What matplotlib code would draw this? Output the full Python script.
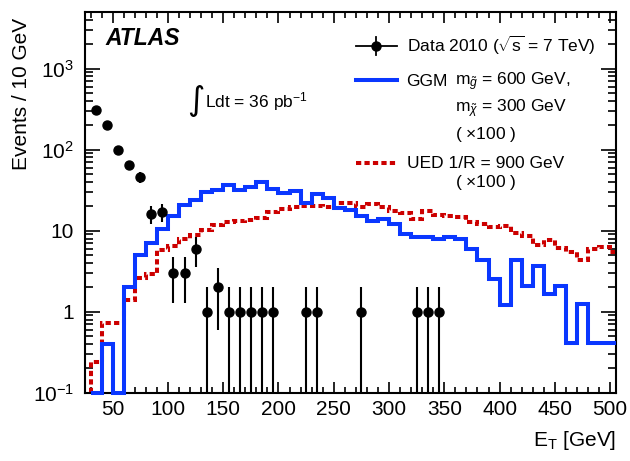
import numpy as np
import matplotlib
matplotlib.use('Agg')
import matplotlib.pyplot as plt
from matplotlib.lines import Line2D
from matplotlib.patches import Rectangle
from matplotlib.ticker import FixedLocator, MultipleLocator, LogLocator, NullFormatter

plt.rcParams['font.family'] = ['Liberation Sans', 'DejaVu Sans']
plt.rcParams['mathtext.fontset'] = 'custom'
plt.rcParams['mathtext.rm'] = 'Liberation Sans'
plt.rcParams['mathtext.it'] = 'Liberation Sans:italic'
plt.rcParams['mathtext.bf'] = 'Liberation Sans:bold'

# data 2010, events per 10 GeV (bin centres)
data_et = [35, 45, 55, 65, 75, 85, 95, 105, 115, 125, 135, 145, 155, 165, 175,
           185, 195, 225, 235, 275, 325, 335, 345]
data_n = [310, 200, 100, 65, 46, 16, 17, 3, 3, 6, 1, 2, 1, 1, 1,
          1, 1, 1, 1, 1, 1, 1, 1]

# signal histograms (x100), 10 GeV bins from 30 GeV
bin_edges = np.arange(30, 520, 10)
ggm = [0, 0.4, 0, 2.0, 5.0, 7.0, 10.5, 15, 21, 24,
       30, 32, 37, 32, 35, 40, 33, 29, 31, 22,
       28, 25, 19, 18, 15, 13, 14, 12, 9.0, 8.4,
       8.3, 7.9, 8.3, 7.9, 5.9, 4.3, 2.5, 1.2, 4.3, 2.1,
       3.7, 1.65, 2.1, 0.41, 1.24, 0.41, 0.41, 0.41]
ued = [0.24, 0.72, 0.72, 1.4, 2.6, 2.9, 5.8, 6.4, 7.8, 8.8,
       10.2, 11.8, 12.7, 13.3, 13.6, 14.2, 17.2, 18.4, 19.5, 20.2,
       20.2, 19.5, 21.8, 21.8, 19.5, 21.5, 19.8, 17.7, 16.4, 13.8,
       17.7, 15.6, 15.2, 14.6, 12.9, 12.0, 11.0, 11.4, 9.4, 8.6,
       6.65, 7.7, 6.05, 5.5, 4.4, 5.9, 6.2, 5.5]

ymin, ymax = 0.1, 5000

fig = plt.figure(figsize=(6.3, 4.61), dpi=100)
ax = fig.add_axes([85/630, 1-392.7/461, 530.7/630, 380.7/461])
ax.set_yscale('log')
ax.set_xlim(25, 505)
ax.set_ylim(ymin, ymax)

# clip a bit below the frame so lines lying on the bottom show fully
clip = Rectangle((0, -0.02), 1, 1.04, transform=ax.transAxes)

blue = '#0a37ff'
red = '#cc0000'
s1 = ax.stairs(np.clip(ggm, ymin, None), bin_edges, baseline=ymin,
               color=blue, lw=2.9, zorder=3)
s1.set_clip_path(clip)
s2 = ax.stairs(np.clip(ued, ymin, None), bin_edges, baseline=ymin,
               color=red, lw=2.9, linestyle=(0, (1.3, 0.8)), zorder=2)
s2.set_clip_path(clip)

n = np.array(data_n, dtype=float)
err = np.sqrt(n)
lo = n - np.maximum(n - err, 1e-3)
ax.errorbar(data_et, n, yerr=[lo, err], fmt='o', color='black', ms=6.5,
            elinewidth=1.5, capsize=0, zorder=4)

# axes styling
ax.xaxis.set_major_locator(MultipleLocator(50))
ax.xaxis.set_minor_locator(MultipleLocator(10))
ax.set_xticks(np.arange(50, 501, 50))
ax.yaxis.set_major_locator(FixedLocator([0.1, 1, 10, 100, 1000]))
ax.yaxis.set_minor_locator(LogLocator(base=10, subs=np.arange(2, 10)))
ax.yaxis.set_minor_formatter(NullFormatter())
ax.set_yticklabels(['$10^{-1}$', '1', '10', '$10^{2}$', '$10^{3}$'])
ax.tick_params(which='both', direction='in', top=True, right=True, width=1.2)
ax.tick_params(axis='x', which='major', length=8, labelsize=15, pad=5)
ax.tick_params(axis='x', which='minor', length=4)
ax.tick_params(axis='y', which='major', length=11, labelsize=15, pad=8)
ax.tick_params(axis='y', which='minor', length=5.5)
for sp in ax.spines.values():
    sp.set_linewidth(1.5)

fig.text(616/630, 1-440/461, r'E$_{\mathrm{T}}$ [GeV]', fontsize=15,
         ha='right', va='center')
fig.text(22/630, 1-18/461, 'Events / 10 GeV', fontsize=15, rotation=90,
         ha='center', va='top')

ax.text(0.0377, 0.930, 'ATLAS', transform=ax.transAxes, fontsize=16.5,
        fontweight='bold', fontstyle='italic', va='center', ha='left')
# luminosity label with a tall integral sign
ax.text(0.192, 0.768, '\u222b', transform=ax.transAxes, fontsize=24,
        family='DejaVu Sans', va='center', ha='left')
ax.text(0.226, 0.766, r'Ldt = 36 pb$^{-1}$', transform=ax.transAxes,
        fontsize=12.5, va='center', ha='left')

# legend
tr = ax.transAxes
lx0, lx1, tx, tx2 = 0.5107, 0.5877, 0.606, 0.697
fs = 12.5
ax.add_line(Line2D([lx0, lx1], [0.911, 0.911], color='black', lw=1.3, transform=tr))
ax.add_line(Line2D([0.549, 0.549], [0.888, 0.934], color='black', lw=1.3, transform=tr))
ax.add_line(Line2D([0.549], [0.911], marker='o', ms=6.5, color='black', transform=tr))
ax.text(tx, 0.911, r'Data 2010 ($\sqrt{\mathrm{s}}$ = 7 TeV)', transform=tr,
        fontsize=fs, va='center')
ax.add_line(Line2D([lx0, lx1], [0.821, 0.821], color=blue, lw=2.9, transform=tr))
ax.text(tx, 0.818, 'GGM', transform=tr, fontsize=fs, va='center')
ax.text(tx2, 0.818, r'm$_{\tilde{g}}$ = 600 GeV,', transform=tr, fontsize=fs, va='center')
ax.text(tx2, 0.745, r'm$_{\tilde{\chi}}$ = 300 GeV', transform=tr, fontsize=fs, va='center')
ax.text(tx2, 0.677, r'( $\times$100 )', transform=tr, fontsize=fs, va='center')
ax.add_line(Line2D([lx0, lx1], [0.603, 0.603], color=red, lw=2.9,
                   linestyle=(0, (1.3, 0.8)), transform=tr))
ax.text(tx, 0.603, 'UED 1/R = 900 GeV', transform=tr, fontsize=fs, va='center')
ax.text(tx2, 0.551, r'( $\times$100 )', transform=tr, fontsize=fs, va='center')

fig.savefig('out.png', dpi=100)
